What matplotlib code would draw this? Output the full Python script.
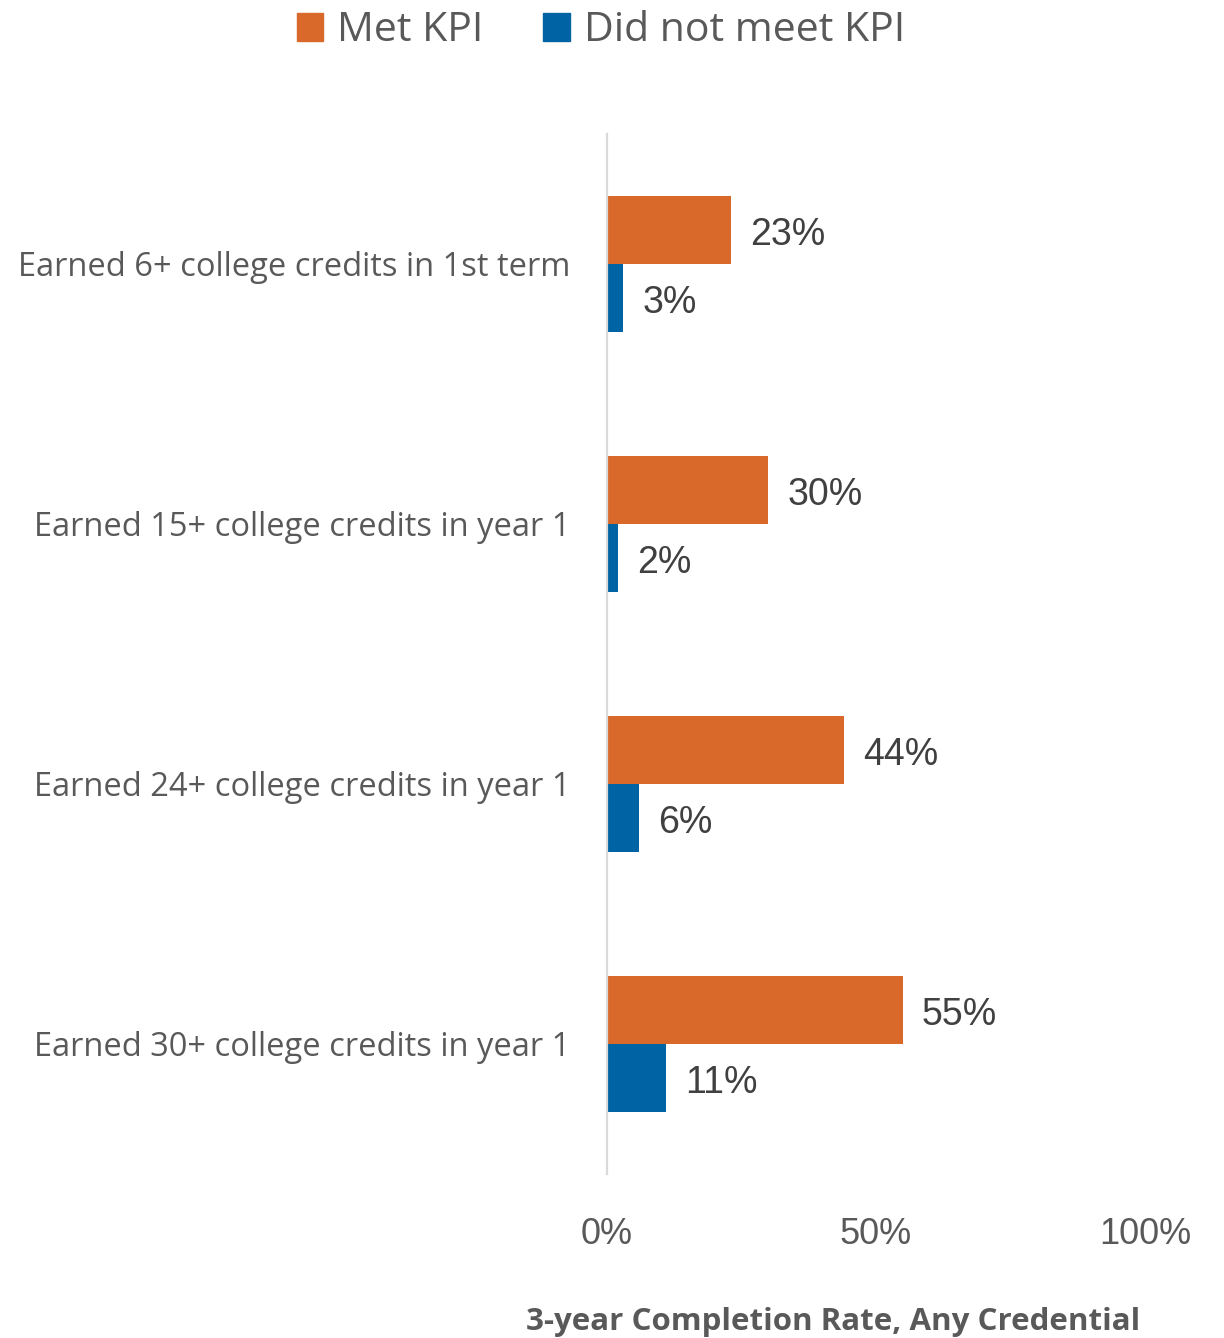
import matplotlib
matplotlib.use("Agg")
import matplotlib.pyplot as plt
from matplotlib.patches import Patch
import numpy as np

categories = [
    "Earned 6+ college credits in 1st term",
    "Earned 15+ college credits in year 1",
    "Earned 24+ college credits in year 1",
    "Earned 30+ college credits in year 1",
]
met_kpi = [0.23, 0.30, 0.44, 0.55]
not_met_kpi = [0.03, 0.02, 0.06, 0.11]
series_names = ["Met KPI", "Did not meet KPI"]
x_ticks = [0.0, 0.5, 1.0]
x_tick_labels = ["0%", "50%", "100%"]
x_title = "3-year Completion Rate, Any Credential"

ORANGE = "#D9692A"
BLUE = "#0063A3"
TEXT = "#595959"

fig = plt.figure(figsize=(12.24, 13.38), dpi=100)
ax = fig.add_axes([607 / 1224, 1 - 1174 / 1338, 538 / 1224, 1040 / 1338])

y = np.arange(len(categories))
h = 0.262
ax.barh(y - h / 2, met_kpi, height=h, color=ORANGE, label=series_names[0])
ax.barh(y + h / 2, not_met_kpi, height=h, color=BLUE, label=series_names[1])

label_font = ["Liberation Sans", "DejaVu Sans"]
for offsets, values in ((y - h / 2, met_kpi), (y + h / 2, not_met_kpi)):
    for yi, v in zip(offsets, values):
        ax.annotate(f"{v * 100:.0f}%", (v, yi), xytext=(19, -5), textcoords="offset pixels",
                    va="center", ha="left", fontsize=27, color="#404040", family=label_font)

ax.set_xlim(0, 1)
ax.set_ylim(len(categories) - 0.5, -0.5)
ax.set_yticks(y)
ax.set_yticklabels(categories, fontsize=23.5, color=TEXT, family=["Open Sans", "DejaVu Sans"])
ax.set_xticks(x_ticks)
ax.set_xticklabels(x_tick_labels, fontsize=26, color=TEXT,
                   family=["Liberation Sans Narrow", "Liberation Sans", "DejaVu Sans"])
ax.tick_params(axis="y", length=0, pad=26.5)
ax.tick_params(axis="x", length=0, pad=31)

for side in ["top", "right", "bottom"]:
    ax.spines[side].set_visible(False)
ax.spines["left"].set_color("#D9D9D9")
ax.spines["left"].set_linewidth(1.6)

fig.text(833 / 1224, 1 - 1322 / 1338, x_title, ha="center", va="center",
         fontsize=22.5, fontweight="bold", color=TEXT, family=["Open Sans", "DejaVu Sans"])

handles = [Patch(color=ORANGE), Patch(color=BLUE)]
fig.legend(handles, series_names, loc="center", bbox_to_anchor=(601 / 1224, 1 - 31 / 1338),
           ncol=2, frameon=False, handlelength=0.65, handleheight=0.65, handletextpad=0.35,
           columnspacing=1.45, prop={"family": ["Open Sans", "DejaVu Sans"], "size": 29.5},
           labelcolor=TEXT)

fig.savefig("out.png", dpi=100, facecolor="white")
